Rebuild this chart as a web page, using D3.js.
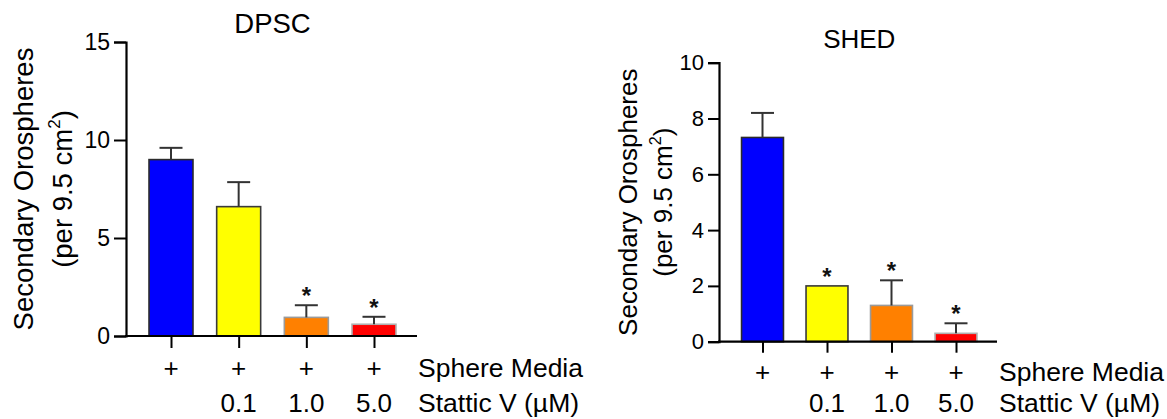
<!DOCTYPE html>
<html>
<head>
<meta charset="utf-8">
<script src="https://cdn.jsdelivr.net/npm/d3@7"></script>
<style>
  html, body { margin: 0; padding: 0; background: #fff; }
  svg { display: block; font-family: "Liberation Sans", Arial, Helvetica, sans-serif; }
</style>
</head>
<body>
<svg id="chart" width="1167" height="419"></svg>
<script>
// Treatment groups (Sphere Media alone, then increasing Stattic V doses)
const groups = ["control", "s0.1", "s1.0", "s5.0"];
const sphereMediaRow = ["+", "+", "+", "+"];
const statticRow = ["", "0.1", "1.0", "5.0"];
const barColors = ["#0000ff", "#ffff00", "#ff8000", "#ff0000"];
const barOutlines = ["#2b2b2b", "#3a3a3a", "#9a9a9a", "#b0b0b0"];

// DPSC: mean secondary orospheres and SEM
const dpscMeans = [9.0, 6.6, 0.95, 0.6];
const dpscSem = [0.6, 1.25, 0.62, 0.38];
const dpscSignificant = [false, false, true, true];
const dpscTicks = [0, 5, 10, 15];

// SHED: mean secondary orospheres and SEM
const shedMeans = [7.32, 2.0, 1.3, 0.3];
const shedSem = [0.88, 0, 0.9, 0.36];
const shedSignificant = [false, true, true, true];
const shedTicks = [0, 2, 4, 6, 8, 10];

const svg = d3.select("#chart");

function drawPanel(p) {
  const g = svg.append("g");

  const y = d3.scaleLinear().domain([0, p.yMax]).range([p.y0, p.y1]);
  const x = d3.scalePoint().domain(groups).range([p.xFirst, p.xLast]);
  const barW = x.step() * 0.65;
  const capHalf = 11.5;

  // bars
  g.selectAll("rect.bar")
    .data(p.means)
    .join("rect")
    .attr("class", "bar")
    .attr("x", (d, i) => x(groups[i]) - barW / 2)
    .attr("width", barW)
    .attr("y", d => y(d))
    .attr("height", d => y(0) - y(d))
    .attr("fill", (d, i) => barColors[i])
    .attr("stroke", (d, i) => barOutlines[i])
    .attr("stroke-width", 1.6);

  // upward SEM whiskers
  const errs = p.means.map((m, i) => ({ i, m, top: m + p.sem[i] })).filter(e => p.sem[e.i] > 0);
  g.selectAll("line.err")
    .data(errs)
    .join("line")
    .attr("x1", e => x(groups[e.i]))
    .attr("x2", e => x(groups[e.i]))
    .attr("y1", e => y(e.m))
    .attr("y2", e => y(e.top))
    .attr("stroke", "#333")
    .attr("stroke-width", 2);
  g.selectAll("line.cap")
    .data(errs)
    .join("line")
    .attr("x1", e => x(groups[e.i]) - capHalf)
    .attr("x2", e => x(groups[e.i]) + capHalf)
    .attr("y1", e => y(e.top))
    .attr("y2", e => y(e.top))
    .attr("stroke", "#333")
    .attr("stroke-width", 2);

  // significance marks
  g.selectAll("text.sig")
    .data(p.means.map((m, i) => ({ i, top: m + p.sem[i] })).filter(d => p.sig[d.i]))
    .join("text")
    .attr("x", d => x(groups[d.i]))
    .attr("y", d => y(d.top) - 1)
    .attr("text-anchor", "middle")
    .attr("font-size", 24)
    .attr("font-weight", "bold")
    .attr("fill", "#111")
    .text("*");

  // y axis
  const yAxis = d3.axisLeft(y)
    .tickValues(p.ticks)
    .tickFormat(d3.format("d"))
    .tickSize(p.tickLen)
    .tickPadding(4);
  const ya = g.append("g")
    .attr("transform", `translate(${p.axisX},0)`)
    .call(yAxis);
  ya.select(".domain").attr("stroke", "#000").attr("stroke-width", 2.2);
  ya.selectAll(".tick line").attr("stroke", "#000").attr("stroke-width", 2);
  ya.selectAll(".tick text")
    .attr("font-size", p.tickSize)
    .attr("fill", "#000")
    .attr("font-family", "Liberation Sans, Arial, sans-serif");

  // x baseline
  g.append("line")
    .attr("x1", p.axisX - 1)
    .attr("x2", p.axisEnd)
    .attr("y1", y(0))
    .attr("y2", y(0))
    .attr("stroke", "#000")
    .attr("stroke-width", 2.2);

  // x ticks under each bar
  const xAxis = d3.axisBottom(x).tickSize(p.xTickLen).tickFormat("");
  const xa = g.append("g")
    .attr("transform", `translate(0,${y(0)})`)
    .call(xAxis);
  xa.select(".domain").remove();
  xa.selectAll(".tick line").attr("stroke", "#000").attr("stroke-width", 2);

  // treatment rows
  g.selectAll("text.media")
    .data(sphereMediaRow)
    .join("text")
    .attr("x", (d, i) => x(groups[i]))
    .attr("y", p.row1Y)
    .attr("text-anchor", "middle")
    .attr("font-size", 26)
    .text(d => d);
  g.selectAll("text.dose")
    .data(statticRow)
    .join("text")
    .attr("x", (d, i) => x(groups[i]))
    .attr("y", p.row2Y)
    .attr("text-anchor", "middle")
    .attr("font-size", 26)
    .text(d => d);
  g.append("text")
    .attr("x", p.rowLabelX)
    .attr("y", p.row1Y)
    .attr("font-size", 26.5)
    .text("Sphere Media");
  g.append("text")
    .attr("x", p.rowLabelX)
    .attr("y", p.row2Y)
    .attr("font-size", 26.5)
    .text("Stattic V (µM)");

  // title
  g.append("text")
    .attr("x", (p.xFirst + p.xLast) / 2)
    .attr("y", p.titleY)
    .attr("text-anchor", "middle")
    .attr("font-size", p.titleSize)
    .text(p.title);

  // y axis title (two lines)
  const yc = (p.y0 + p.y1) / 2;
  g.append("text")
    .attr("transform", `translate(${p.yLab1X},${yc}) rotate(-90)`)
    .attr("text-anchor", "middle")
    .attr("font-size", p.labSize)
    .text("Secondary Orospheres");
  const t2 = g.append("text")
    .attr("transform", `translate(${p.yLab2X},${yc}) rotate(-90)`)
    .attr("text-anchor", "middle")
    .attr("font-size", p.labSize);
  t2.append("tspan").text("(per 9.5 cm");
  t2.append("tspan").attr("font-size", p.labSize * 0.62).attr("dy", -p.labSize * 0.42).text("2");
  t2.append("tspan").attr("dy", p.labSize * 0.42).text(")");
}

drawPanel({
  title: "DPSC", titleY: 33, titleSize: 27.5,
  means: dpscMeans, sem: dpscSem, sig: dpscSignificant, ticks: dpscTicks,
  yMax: 15, y0: 336, y1: 42,
  xFirst: 171, xLast: 374,
  axisX: 126, axisEnd: 417, tickLen: 12, xTickLen: 12, tickSize: 23,
  row1Y: 377, row2Y: 412, rowLabelX: 418,
  yLab1X: 33, yLab2X: 72, labSize: 27.5
});

drawPanel({
  title: "SHED", titleY: 48, titleSize: 26,
  means: shedMeans, sem: shedSem, sig: shedSignificant, ticks: shedTicks,
  yMax: 10, y0: 341.7, y1: 62.7,
  xFirst: 762.5, xLast: 956,
  axisX: 719, axisEnd: 997, tickLen: 11, xTickLen: 11, tickSize: 22,
  row1Y: 381, row2Y: 412, rowLabelX: 999,
  yLab1X: 637, yLab2X: 672, labSize: 26
});
</script>
</body>
</html>
